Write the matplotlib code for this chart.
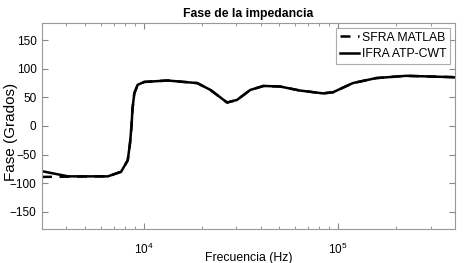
import numpy as np
import matplotlib
matplotlib.use("Agg")
import matplotlib.pyplot as plt

# ------------------------------------------------------------------
# data (Hz, degrees)
# ------------------------------------------------------------------
freq = [3000, 4088, 6548, 7655, 8283, 8511, 8661, 8764, 8953, 9318, 10070,
        13270, 18880, 22080, 26880, 30240, 35380, 41360, 50350, 63660, 83800,
        94300, 119300, 157000, 223700, 387000, 400000]
ifra_atp = [-79, -88, -88, -80, -60, -30, 0, 30, 57, 72, 77,
            79.5, 75, 63, 41, 45.6, 63, 70, 69, 62, 57,
            59, 75, 83.7, 87.7, 85.4, 85]
sfra_matlab = [-89, -88.5, -88, -80, -60, -30, 0, 30, 57, 72, 77,
               79.5, 75, 63, 41, 45.6, 63, 70, 69, 62, 57,
               59, 75, 83.7, 87.7, 85.4, 85]

yticks = [-150, -100, -50, 0, 50, 100, 150]

plt.rcParams['font.family'] = ['Liberation Sans', 'DejaVu Sans']

fig = plt.figure(figsize=(4.71, 2.63), dpi=100)
ax = fig.add_axes([42/471, 1 - 229/263, 413/471, 206/263])

ax.semilogx(freq, sfra_matlab, color='black', lw=1.8, ls=(0, (4, 3)), label='SFRA MATLAB')
ax.semilogx(freq, ifra_atp, color='black', lw=1.8, label='IFRA ATP-CWT')

ax.set_xlim(3000, 4e5)
ax.set_ylim(-180, 180)
ax.set_yticks(yticks)
ax.tick_params(which='both', direction='in', top=True, right=True, labelsize=8.5, color='#888888')
ax.tick_params(axis='y', pad=4)
ax.tick_params(axis='x', pad=9)
ax.tick_params(which='major', length=4)
ax.tick_params(which='minor', length=2)
for s in ax.spines.values():
    s.set_color('#999999')

ax.set_title('Fase de la impedancia', fontsize=8.8, fontweight='bold', pad=4)
ax.set_xlabel('Frecuencia (Hz)', fontsize=8.8)
ax.xaxis.set_label_coords(0.5, -0.113)
ax.set_ylabel('Fase (Grados)', fontsize=11)
ax.yaxis.set_label_coords(-0.058, 0.47)

leg = ax.legend(loc='upper right', fontsize=8.8, frameon=True, fancybox=False,
                handlelength=1.6, handletextpad=0.2, borderpad=0.3, labelspacing=0.35,
                borderaxespad=0.4)
leg.get_frame().set_edgecolor('#999999')
leg.get_frame().set_linewidth(0.8)

fig.savefig('out.png', dpi=100)
